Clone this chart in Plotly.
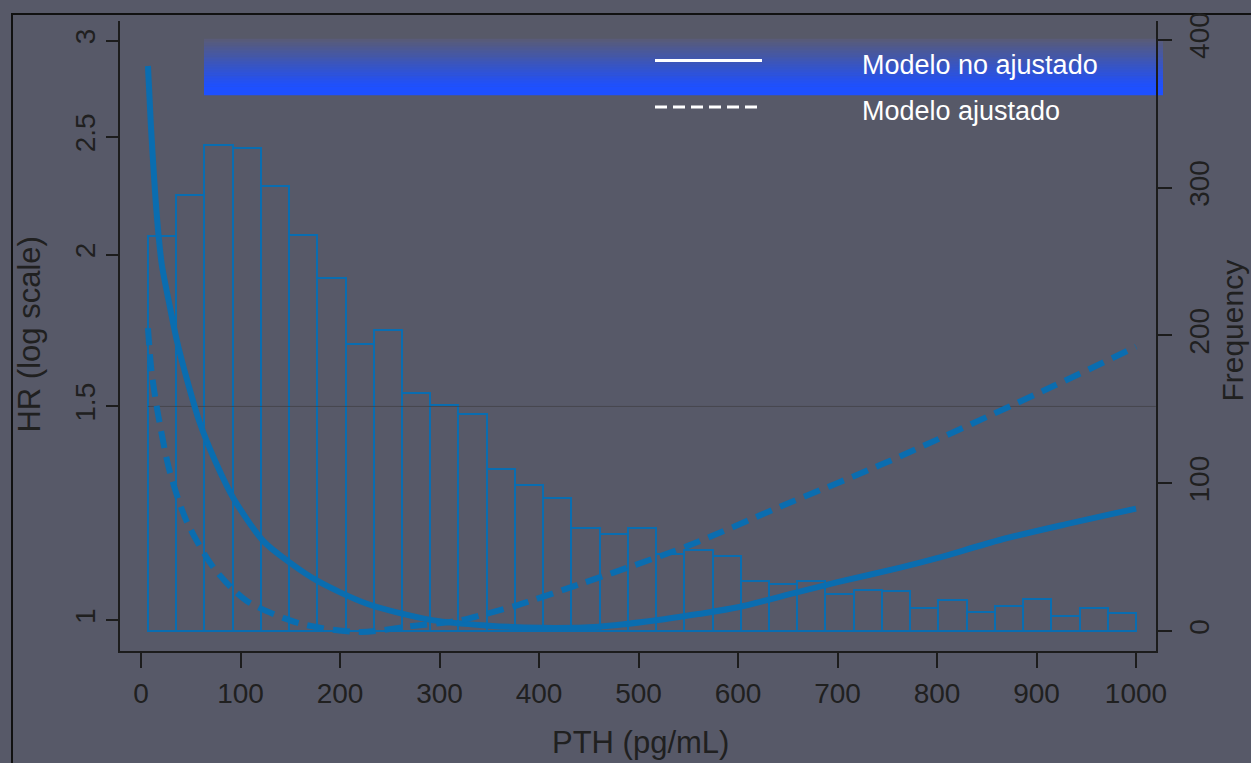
import plotly.graph_objects as go

# ---------------- data ----------------
# histogram of PTH (35 bins between ~7 and 1000 pg/mL)
bin_start = 7.0
bin_end = 1000.0
freq_counts = [267, 295, 329, 327, 301, 268, 239, 194, 204, 161, 153, 147,
               110, 99, 90, 70, 66, 70, 52, 55, 51, 34, 32, 34, 25, 28, 27,
               16, 21, 13, 17, 22, 10, 16, 12]

# Modelo no ajustado (solid)
pth_solid = [7, 10, 14, 18, 21, 28, 36, 47, 59, 75, 93, 123, 150, 177, 227,
             294, 350, 400, 460, 518, 560, 600, 660, 700, 763, 800, 864, 930, 1000]
hr_solid = [2.86, 2.55, 2.26, 2.06, 1.96, 1.83, 1.70, 1.57, 1.455, 1.35, 1.26,
            1.162, 1.115, 1.078, 1.032, 1.0, 0.99, 0.986, 0.988, 1.0, 1.012,
            1.025, 1.055, 1.075, 1.105, 1.125, 1.165, 1.20, 1.236]

# Modelo ajustado (dashed)
pth_dashed = [7, 10.7, 17.4, 29, 46, 73, 106, 160, 220, 267, 321, 348, 378,
              441, 549, 642, 750, 917, 1000]
hr_dashed = [1.74, 1.60, 1.474, 1.325, 1.206, 1.105, 1.038, 0.994, 0.978,
             0.988, 1.0, 1.013, 1.029, 1.071, 1.151, 1.24, 1.35, 1.559, 1.68]

x_ticks = [0, 100, 200, 300, 400, 500, 600, 700, 800, 900, 1000]
hr_ticks = [1, 1.5, 2, 2.5, 3]
hr_tick_text = ["1", "1.5", "2", "2.5", "3"]
freq_ticks = [0, 100, 200, 300, 400]
ref_hr = 1.5

legend_labels = ["Modelo no ajustado", "Modelo ajustado"]

# ---------------- styling / layout ----------------
W, H = 1251, 763
L, R, T, B = 120, 1156, 14, 651
BG = "rgb(87,89,104)"
BLUE = "#0a6db0"
INK = "#1c1c1c"
TICKFONT = dict(family="Liberation Sans, Arial, sans-serif", size=28, color="#202020")


def px(xp):
    return (xp - L) / (R - L)


def py(yp):
    return (B - yp) / (B - T)


n_bins = len(freq_counts)
bw = (bin_end - bin_start) / n_bins
centers = [bin_start + bw * (i + 0.5) for i in range(n_bins)]

fig = go.Figure()

fig.add_trace(go.Bar(
    x=centers, y=freq_counts, width=[bw] * n_bins, yaxis="y",
    marker=dict(color="rgba(0,0,0,0)", line=dict(color=BLUE, width=2)),
    showlegend=False, hoverinfo="skip"))

fig.add_trace(go.Scatter(
    x=[bin_start, 1020], y=[ref_hr, ref_hr], yaxis="y2", mode="lines",
    line=dict(color="rgba(60,60,62,0.6)", width=1), showlegend=False, hoverinfo="skip"))

fig.add_trace(go.Scatter(
    x=pth_solid, y=hr_solid, yaxis="y2", mode="lines",
    line=dict(color=BLUE, width=6, shape="spline", smoothing=0.8),
    name=legend_labels[0], showlegend=False))

fig.add_trace(go.Scatter(
    x=pth_dashed, y=hr_dashed, yaxis="y2", mode="lines",
    line=dict(color=BLUE, width=6, dash="17px,9px", shape="spline", smoothing=0.8),
    name=legend_labels[1], showlegend=False))

shapes = []
# outer slide frame
shapes.append(dict(type="rect", xref="paper", yref="paper",
                   x0=px(12), x1=px(1300), y0=py(7), y1=py(820),
                   line=dict(color="#111111", width=2), fillcolor="rgba(0,0,0,0)",
                   layer="below"))
# gradient legend band
n_strips = 30
y_top, y_grad_end, y_bot = 32, 80, 89
c0 = (90, 92, 118)
c1 = (30, 80, 255)
for i in range(n_strips):
    ya = y_top + (y_grad_end - y_top) * i / n_strips
    yb = y_top + (y_grad_end - y_top) * (i + 1) / n_strips + 0.6
    t = (i + 0.5) / n_strips
    col = "rgb(%d,%d,%d)" % tuple(int(c0[k] + (c1[k] - c0[k]) * t) for k in range(3))
    shapes.append(dict(type="rect", xref="paper", yref="paper",
                       x0=px(204), x1=px(1163), y0=py(yb), y1=py(ya),
                       line=dict(width=0), fillcolor=col, layer="below"))
shapes.append(dict(type="rect", xref="paper", yref="paper",
                   x0=px(204), x1=px(1163), y0=py(y_bot), y1=py(y_grad_end),
                   line=dict(width=0), fillcolor="rgb(30,80,255)", layer="below"))
# legend line samples
shapes.append(dict(type="line", xref="paper", yref="paper",
                   x0=px(655), x1=px(762), y0=py(54), y1=py(54),
                   line=dict(color="white", width=3)))
shapes.append(dict(type="line", xref="paper", yref="paper",
                   x0=px(655), x1=px(762), y0=py(101), y1=py(101),
                   line=dict(color="white", width=3, dash="12px,6px")))

LEGFONT = dict(family="Liberation Sans, Arial, sans-serif", size=27, color="white")
TITLEFONT = dict(family="Liberation Sans, Arial, sans-serif", size=31, color="#202020")
annotations = [
    dict(text=legend_labels[0], xref="paper", yref="paper", x=px(860), y=py(58),
         xanchor="left", yanchor="middle", showarrow=False, font=LEGFONT),
    dict(text=legend_labels[1], xref="paper", yref="paper", x=px(860), y=py(105),
         xanchor="left", yanchor="middle", showarrow=False, font=LEGFONT),
    dict(text="PTH (pg/mL)", xref="paper", yref="paper", x=px(640), y=py(744),
         xanchor="center", yanchor="middle", showarrow=False, font=TITLEFONT),
    dict(text="HR (log scale)", xref="paper", yref="paper", x=px(30), y=py(331),
         xanchor="center", yanchor="middle", showarrow=False, textangle=-90,
         font=TITLEFONT),
    dict(text="Frequency", xref="paper", yref="paper", x=px(1233), y=py(327),
         xanchor="center", yanchor="middle", showarrow=False, textangle=-90,
         font=dict(family="Liberation Sans, Arial, sans-serif", size=30, color="#202020")),
]

fig.update_layout(
    width=W, height=H,
    margin=dict(l=L, r=W - R, t=T, b=H - B),
    paper_bgcolor=BG, plot_bgcolor=BG,
    showlegend=False, bargap=0,
    shapes=shapes, annotations=annotations,
    xaxis=dict(range=[-21.1, 1020.1], tickvals=x_ticks, showline=True,
               linecolor=INK, linewidth=2, ticks="outside", ticklen=15,
               tickwidth=2, tickcolor=INK, showgrid=False, zeroline=False,
               tickfont=TICKFONT, ticklabelstandoff=1),
    yaxis=dict(side="right", range=[-13.4, 412.7], tickvals=freq_ticks,
               showline=True, linecolor=INK, linewidth=2, ticks="outside",
               ticklen=14, tickwidth=2, tickcolor=INK, showgrid=False,
               zeroline=False, tickangle=-90, tickfont=TICKFONT,
               ticklabelstandoff=3),
    yaxis2=dict(overlaying="y", side="left", type="log",
                range=[-0.02524, 0.4934], tickvals=hr_ticks, ticktext=hr_tick_text,
                showline=True, linecolor=INK, linewidth=2, ticks="outside",
                ticklen=12, tickwidth=2, tickcolor=INK, showgrid=False,
                zeroline=False, tickangle=-90, tickfont=TICKFONT),
)

post = ("document.body.style.margin='0';document.body.style.padding='0';"
        "document.body.style.overflow='hidden';"
        "document.body.style.background='" + BG + "';")
fig.write_html("out.html", post_script=post, config={"displayModeBar": False})
